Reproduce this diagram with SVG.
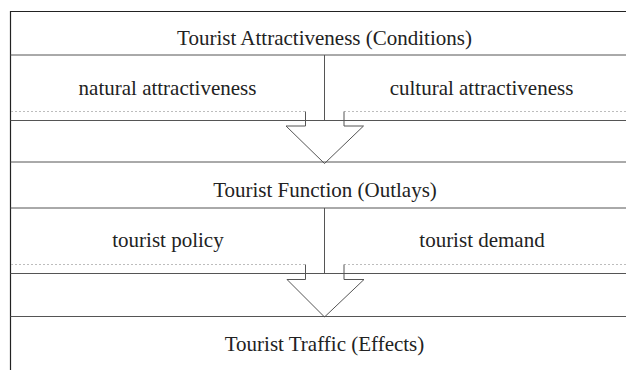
<svg xmlns="http://www.w3.org/2000/svg" width="626" height="370" viewBox="0 0 626 370">
<style>
.bg{fill:#ffffff}
.frame{stroke:#222;stroke-width:1.2;fill:none}
.rule{stroke:#555;stroke-width:1;fill:none}
.dot{stroke:#bdbdbd;stroke-width:1;stroke-dasharray:2 2;fill:none}
.arrow{stroke:#555;stroke-width:1;fill:none}
text{font-family:"Liberation Serif","Times New Roman",serif;font-size:21px;fill:#222;text-anchor:middle}
</style>
<rect class="bg" x="0" y="0" width="626" height="370"/>
<g id="table">
<line class="frame" x1="10.5" y1="11.5" x2="626" y2="11.5"/>
<line class="frame" x1="10.5" y1="11" x2="10.5" y2="370"/>
<line class="rule" x1="10.5" y1="55" x2="626" y2="55"/>
<line class="rule" x1="10.5" y1="120.5" x2="626" y2="120.5"/>
<line class="rule" x1="10.5" y1="162" x2="626" y2="162"/>
<line class="rule" x1="10.5" y1="208" x2="626" y2="208"/>
<line class="rule" x1="10.5" y1="273.5" x2="626" y2="273.5"/>
<line class="rule" x1="10.5" y1="316.5" x2="626" y2="316.5"/>
<line class="rule" x1="324.5" y1="55" x2="324.5" y2="120.5"/>
<line class="rule" x1="324.5" y1="208" x2="324.5" y2="273.5"/>
</g>
<g id="n-attractiveness"><text x="324.5" y="45">Tourist Attractiveness (Conditions)</text></g>
<g id="n-natural"><text x="167.5" y="94.5">natural attractiveness</text></g>
<g id="n-cultural"><text x="481.5" y="94.5">cultural attractiveness</text></g>
<g id="n-function"><text x="325" y="196.5">Tourist Function (Outlays)</text></g>
<g id="n-policy"><text x="168" y="247">tourist policy</text></g>
<g id="n-demand"><text x="482" y="247">tourist demand</text></g>
<g id="n-traffic"><text x="324.5" y="351">Tourist Traffic (Effects)</text></g>
<g id="connectors">
<line class="dot" x1="11" y1="111.5" x2="305.5" y2="111.5"/>
<line class="dot" x1="344" y1="111.5" x2="626" y2="111.5"/>
<path class="arrow" d="M305.5,111.5 V126 H286 L324.5,163.5 L363.5,126 H344 V111.5"/>
<line class="dot" x1="11" y1="264.5" x2="305.5" y2="264.5"/>
<line class="dot" x1="344" y1="264.5" x2="626" y2="264.5"/>
<path class="arrow" d="M305.5,264.5 V279.5 H287 L324.5,317 L364,279.5 H344 V264.5"/>
</g>
</svg>
